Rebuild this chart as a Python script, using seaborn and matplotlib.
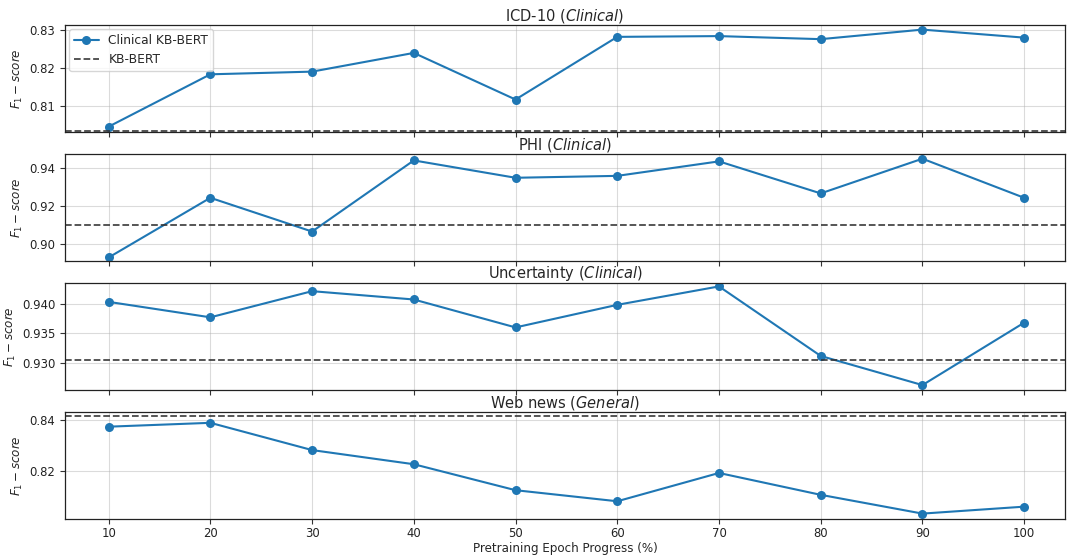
import matplotlib
matplotlib.use("Agg")
import matplotlib.pyplot as plt
import seaborn as sns
import pandas as pd

epochs = [10, 20, 30, 40, 50, 60, 70, 80, 90, 100]

icd10 = [0.8046, 0.8183, 0.8190, 0.8239, 0.8117, 0.8281, 0.8283, 0.8275, 0.8300, 0.8279]
phi = [0.8931, 0.9244, 0.9067, 0.9440, 0.9349, 0.9359, 0.9435, 0.9267, 0.9449, 0.9244]
uncertainty = [0.9403, 0.9377, 0.9421, 0.9407, 0.9360, 0.9398, 0.9429, 0.9312, 0.9263, 0.9368]
webnews = [0.8373, 0.8388, 0.8282, 0.8227, 0.8126, 0.8083, 0.8193, 0.8108, 0.8035, 0.8062]

baselines = [0.8035, 0.9099, 0.9306, 0.8414]
titles = [r"ICD-10 ($\it{Clinical}$)", r"PHI ($\it{Clinical}$)",
          r"Uncertainty ($\it{Clinical}$)", r"Web news ($\it{General}$)"]
series = [icd10, phi, uncertainty, webnews]
ylims = [(0.8032, 0.8312), (0.8913, 0.9474), (0.9255, 0.9435), (0.8015, 0.8431)]
yticks = [[0.81, 0.82, 0.83], [0.90, 0.92, 0.94], [0.930, 0.935, 0.940], [0.82, 0.84]]
ytick_fmt = ["{:.2f}", "{:.2f}", "{:.3f}", "{:.2f}"]

sns.set_style("ticks")
plt.rcParams["font.family"] = ["DejaVu Sans"]

fig, axes = plt.subplots(4, 1, figsize=(10.67, 5.56), dpi=100, sharex=True)
fig.subplots_adjust(left=0.061, right=0.998, top=0.955, bottom=0.067, hspace=0.205)

blue = "#1f77b4"
for i, ax in enumerate(axes):
    df = pd.DataFrame({"epoch": epochs, "f1": series[i]})
    sns.lineplot(data=df, x="epoch", y="f1", ax=ax, color=blue, marker="o",
                 markersize=6.5, markeredgewidth=0, linewidth=1.5,
                 label="Clinical KB-BERT" if i == 0 else None, legend=False)
    ax.axhline(baselines[i], color="#333333", linestyle="--", linewidth=1.3,
               alpha=0.9, label="KB-BERT" if i == 0 else None)
    ax.set_ylim(*ylims[i])
    ax.set_xlim(5.72, 104.0)
    ax.set_yticks(yticks[i])
    ax.set_yticklabels([ytick_fmt[i].format(v) for v in yticks[i]])
    ax.set_xticks(epochs)
    ax.grid(True, color="#b0b0b0", alpha=0.45, linewidth=0.8)
    ax.set_title(titles[i], fontsize=10.5, pad=3)
    ax.set_ylabel(r"$F_1-score$", fontsize=8.6, labelpad=3)
    ax.set_xlabel("")
    ax.tick_params(labelsize=8.4, length=3.5, width=0.8, color="#333333",
                   labelcolor="#222222")
    ax.tick_params(axis="x", pad=2.5)
    for s in ax.spines.values():
        s.set_color("#222222")
        s.set_linewidth(0.9)

axes[0].legend(loc="upper left", fontsize=8.8, frameon=True, fancybox=True,
               borderaxespad=0.35)
axes[-1].set_xlabel("Pretraining Epoch Progress (%)", fontsize=8.6, labelpad=1.5)

fig.savefig("out.png", dpi=100)
